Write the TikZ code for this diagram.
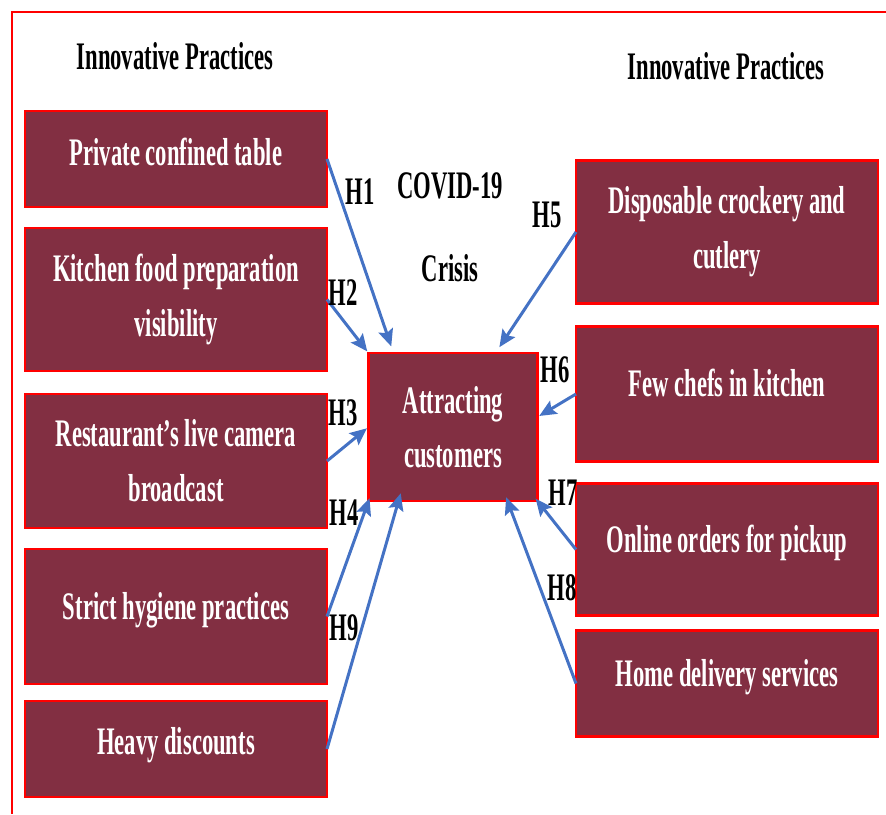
\documentclass[tikz,border=0pt]{standalone}
\usepackage{fontspec}
\setmainfont{Liberation Serif}[FakeStretch=0.58]
\usepackage{xcolor}
\usepackage{tikz}
\usetikzlibrary{arrows.meta, positioning}
\definecolor{boxfill}{HTML}{822F42}
\definecolor{boxline}{HTML}{FF0000}
\definecolor{arrowblue}{HTML}{4472C4}
\tikzset{
    practice/.style={
        rectangle, draw=boxline, fill=boxfill, line width=2.5pt,
        minimum width=302pt, text=white, align=center, outer sep=0pt,
        font=\fontsize{39}{55}\selectfont\bfseries, inner sep=2pt
    },
    oneline/.style={text depth=#1},
    oneline/.default=22pt,
    hubbox/.style={
        rectangle, draw=boxline, fill=boxfill, line width=2.5pt,
        minimum width=169pt, minimum height=148pt, text=white, align=center,
        font=\fontsize{39}{54}\selectfont\bfseries, inner sep=2pt, outer sep=0pt
    },
    headlab/.style={font=\fontsize{39}{46}\selectfont\bfseries, text=black},
    hyplab/.style={font=\fontsize{39}{46}\selectfont\bfseries, text=black, inner sep=0pt},
    hyparrow/.style={
        -{Stealth[length=17pt, width=15pt, inset=3pt]}, line width=3pt, color=arrowblue
    },
}
\begin{document}
\begin{tikzpicture}[x=1pt, y=-1pt]
    \useasboundingbox (0,0) rectangle (886,814);
    % frame
    \draw[boxline, line width=2pt] (12,814) -- (12,12) -- (886,12);

    % headings
    \node[headlab] (headleft) at (175,56) {Innovative Practices};
    \node[headlab] (headright) at (726,66) {Innovative Practices};
    \node[headlab] (covid) at (450,186) {COVID-19};
    \node[headlab] (crisis) at (450,268) {Crisis};

    % left column
    \node[practice, oneline=14pt, minimum height=96pt] (table) at (176,159) {Private confined table};
    \node[practice, minimum height=143pt, below=21pt of table] (kitchen) {Kitchen food preparation\\visibility};
    \node[practice, minimum height=134pt, below=23pt of kitchen] (camera) {Restaurant’s live camera\\broadcast};
    \node[practice, oneline, minimum height=135pt, below=21pt of camera] (hygiene) {Strict hygiene practices};
    \node[practice, oneline=16pt, minimum height=96pt, below=17pt of hygiene] (discount) {Heavy discounts};

    % right column
    \node[practice, minimum height=143pt] (crockery) at (727,232) {Disposable crockery and\\cutlery};
    \node[practice, oneline, minimum height=135pt, below=23pt of crockery] (chefs) {Few chefs in kitchen};
    \node[practice, oneline, minimum height=132pt, below=22pt of chefs] (pickup) {Online orders for pickup};
    \node[practice, oneline, minimum height=106pt, below=15pt of pickup] (delivery) {Home delivery services};

    % outcome
    \node[hubbox] (hub) at (453,427) {Attracting\\customers};

    % hypotheses
    \draw[hyparrow, shorten >=7pt] (table.east) -- ([xshift=25pt]hub.north west);
    \draw[hyparrow, shorten >=2pt] (kitchen.east) -- (hub.north west);
    \draw[hyparrow, shorten >=2pt] (camera.east) -- (hub.west);
    \draw[hyparrow, shorten >=-3pt] (hygiene.east) -- (hub.south west);
    \draw[hyparrow, shorten >=-8pt] (discount.east) -- ([xshift=30pt]hub.south west);
    \draw[hyparrow, shorten >=7pt] (crockery.west) -- ([xshift=-42pt]hub.north east);
    \draw[hyparrow, shorten >=2pt] (chefs.west) -- ([yshift=10pt]hub.east);
    \draw[hyparrow, shorten >=-3pt] (pickup.west) -- (hub.south east);
    \draw[hyparrow, shorten >=-4pt] (delivery.west) -- ([xshift=-30pt]hub.south east);

    \node[hyplab] (h1) at (360,192) {H1};
    \node[hyplab] (h2) at (343,293) {H2};
    \node[hyplab] (h3) at (343,413) {H3};
    \node[hyplab] (h4) at (344,513) {H4};
    \node[hyplab] (h9) at (344,628) {H9};
    \node[hyplab] (h5) at (547,215) {H5};
    \node[hyplab] (h6) at (555,370) {H6};
    \node[hyplab] (h7) at (563,493) {H7};
    \node[hyplab] (h8) at (562,588) {H8};
\end{tikzpicture}
\end{document}
